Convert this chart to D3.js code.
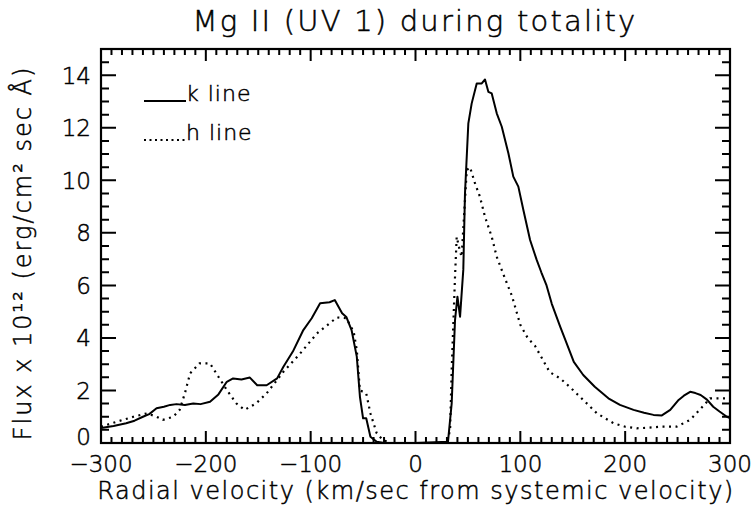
<!DOCTYPE html>
<html>
<head>
<meta charset="utf-8">
<script src="https://cdn.jsdelivr.net/npm/d3@7"></script>
<style>
  body { margin: 0; background: #fff; }
  text { font-family: "DejaVu Sans", sans-serif; font-weight: 200; fill: #000; stroke: #000; stroke-width: 0.5; }
</style>
</head>
<body>
<div id="chart"></div>
<script>
// k line (solid) - velocity (km/s) and flux
var k_vel = [-300, -288, -276, -268, -260, -254, -247, -240, -234, -228, -220, -212, -205, -196, -188, -180, -174, -166, -158, -151, -142, -132, -126, -117, -107, -99, -91, -82, -77, -70, -66, -61, -56, -53, -50, -47, -43, -37, -30, 0, 31, 34.5, 37.7, 40, 42.5, 45.6, 47.2, 50.4, 53.6, 58.4, 63.2, 66.3, 69.5, 72.7, 77.5, 82.3, 88.6, 93.3, 98.1, 102.9, 109.3, 115.6, 120, 125, 130, 138, 143, 151, 160, 171, 184, 195, 208, 218, 227, 235, 243, 251, 256, 262, 267, 272, 278, 284, 290, 297, 300];
var k_flux = [0.57, 0.65, 0.75, 0.85, 1.0, 1.1, 1.32, 1.38, 1.45, 1.48, 1.45, 1.5, 1.48, 1.57, 1.85, 2.33, 2.46, 2.42, 2.49, 2.2, 2.2, 2.46, 2.9, 3.48, 4.3, 4.75, 5.32, 5.36, 5.44, 4.94, 4.8, 4.3, 3.29, 1.76, 0.94, 0.94, 0.24, 0.05, 0.0, 0.0, 0.05, 1.5, 4.68, 5.57, 4.81, 6.6, 9.5, 12.17, 12.93, 13.69, 13.69, 13.84, 13.37, 13.31, 12.55, 12.04, 11.03, 10.14, 9.76, 8.87, 7.73, 6.97, 6.5, 6.0, 5.3, 4.43, 3.92, 3.09, 2.59, 2.14, 1.7, 1.45, 1.26, 1.15, 1.07, 1.05, 1.26, 1.64, 1.8, 1.95, 1.9, 1.83, 1.65, 1.38, 1.2, 1.0, 0.95];

// h line (dotted)
var h_vel = [-300, -285, -269, -256, -247, -241, -231, -225, -220, -215, -206, -196, -190, -180, -171, -163, -152, -142, -126, -110, -94, -75, -66, -59, -56, -53, -50, -47, -43, -37, -31, -24, 0, 30, 33, 34.5, 37.7, 39.3, 42.5, 44, 48.9, 52, 56.8, 61.5, 66.3, 72.7, 77.5, 85, 92, 100, 107, 114, 121, 128, 138, 147, 160, 173, 189, 200, 211, 222, 233, 249, 262, 271, 281, 291, 300];
var h_flux = [0.62, 0.81, 1.0, 1.13, 1.0, 0.88, 1.0, 1.26, 1.89, 2.65, 3.03, 3.03, 2.65, 2.02, 1.51, 1.26, 1.51, 1.89, 2.71, 3.41, 4.17, 4.78, 4.75, 4.24, 3.54, 2.0, 1.95, 1.89, 1.13, 0.37, 0.11, 0.0, 0.0, 0.0, 0.5, 2.78, 6.33, 7.85, 7.28, 7.09, 10.39, 10.5, 9.88, 9.37, 8.61, 7.85, 7.09, 6.3, 5.6, 4.5, 4.0, 3.7, 3.2, 2.7, 2.46, 2.14, 1.64, 1.13, 0.75, 0.62, 0.56, 0.58, 0.62, 0.62, 0.88, 1.26, 1.7, 1.7, 1.7];

var x_ticks = [-300, -200, -100, 0, 100, 200, 300];
var y_ticks = [0, 2, 4, 6, 8, 10, 12, 14];

var margin = {top: 49, right: 26, bottom: 86, left: 101},
width = 756 - margin.left - margin.right,
height = 529 - margin.top - margin.bottom;

var svg = d3.select('#chart')
  .append('svg')
  .attr("width", 756)
  .attr("height", 529);

var g = svg.append("g")
  .attr("transform", "translate(" + margin.left + "," + margin.top + ")");

var x = d3.scaleLinear().domain([-300, 300]).range([0, width]);
var y = d3.scaleLinear().domain([0, 15]).range([height, 0]);

var x_minor = d3.range(-300, 301, 10);
var y_minor = d3.range(0, 15.01, 0.5);

// frame
g.append("rect")
  .attr("width", width)
  .attr("height", height)
  .attr("fill", "none")
  .attr("stroke", "#000")
  .attr("stroke-width", 2.2);

// inward ticks on all four sides, one path
var tp = d3.path();
x_minor.forEach(function(d) {
  var len = x_ticks.includes(d) ? 12 : 6;
  tp.moveTo(x(d), height); tp.lineTo(x(d), height - len);
  tp.moveTo(x(d), 0); tp.lineTo(x(d), len);
});
y_minor.forEach(function(d) {
  var len = y_ticks.includes(d) ? 15 : 8;
  tp.moveTo(0, y(d)); tp.lineTo(len, y(d));
  tp.moveTo(width, y(d)); tp.lineTo(width - len, y(d));
});
g.append("path")
  .attr("d", tp.toString())
  .attr("fill", "none")
  .attr("stroke", "#000")
  .attr("stroke-width", 2);

// tick labels
g.selectAll(".xlab")
  .data(x_ticks)
  .join("text")
  .attr("x", d => x(d))
  .attr("y", height + 29)
  .attr("text-anchor", "middle")
  .style("font-size", "23px")
  .text(d => d < 0 ? "\u2212" + Math.abs(d) : d);

g.selectAll(".ylab")
  .data(y_ticks)
  .join("text")
  .attr("x", -10)
  .attr("y", d => d == 0 ? y(d) - 6 : y(d))
  .attr("dy", "0.36em")
  .attr("text-anchor", "end")
  .style("font-size", "23px")
  .text(d => d);

// curves
var line = d3.line()
  .x(d => x(d[0]))
  .y(d => y(d[1]));

g.append("path")
  .datum(d3.zip(k_vel, k_flux))
  .attr("fill", "none")
  .attr("stroke", "#000")
  .attr("stroke-width", 2)
  .attr("stroke-linejoin", "round")
  .attr("d", line);

g.append("path")
  .datum(d3.zip(h_vel, h_flux))
  .attr("fill", "none")
  .attr("stroke", "#000")
  .attr("stroke-width", 2.2)
  .attr("stroke-dasharray", "2 4.5")
  .attr("d", line);

// legend
var legend = g.append("g").attr("transform", "translate(43,52)");
legend.append("line")
  .attr("x1", 0).attr("x2", 42).attr("y1", 0).attr("y2", 0)
  .attr("stroke", "#000").attr("stroke-width", 2);
legend.append("text")
  .attr("x", 42).attr("y", 0)
  .style("font-size", "22px")
  .style("letter-spacing", "1px")
  .text("k line");
legend.append("line")
  .attr("x1", 0).attr("x2", 42).attr("y1", 39).attr("y2", 39)
  .attr("stroke", "#000").attr("stroke-width", 2)
  .attr("stroke-dasharray", "2 3.5");
legend.append("text")
  .attr("x", 42).attr("y", 39)
  .style("font-size", "22px")
  .style("letter-spacing", "1px")
  .text("h line");

// titles
svg.append("text")
  .attr("x", 415)
  .attr("y", 31)
  .attr("text-anchor", "middle")
  .style("font-size", "29px")
  .style("letter-spacing", "2.2px")
  .text("Mg II (UV 1) during totality");

svg.append("text")
  .attr("x", 416)
  .attr("y", 499)
  .attr("text-anchor", "middle")
  .style("font-size", "24px")
  .style("letter-spacing", "1.5px")
  .text("Radial velocity (km/sec from systemic velocity)");

svg.append("text")
  .attr("transform", "translate(31,253) rotate(-90)")
  .attr("text-anchor", "middle")
  .style("font-size", "24px")
  .style("letter-spacing", "2px")
  .text("Flux x 10\u00b9\u00b2 (erg/cm\u00b2 sec \u00c5)");
</script>
</body>
</html>
